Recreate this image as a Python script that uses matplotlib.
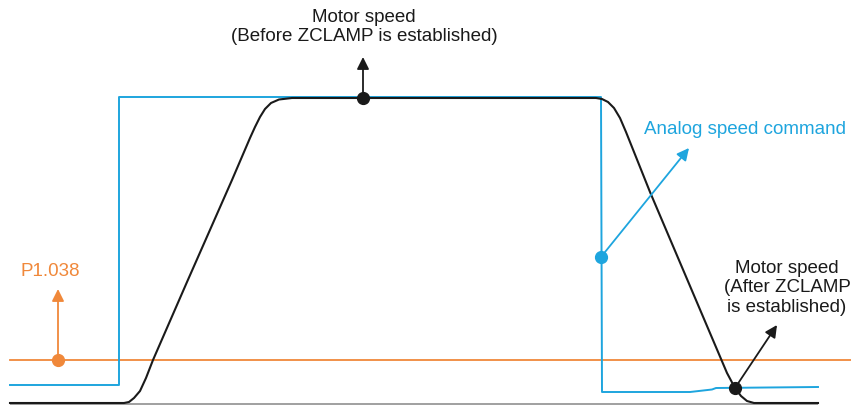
import matplotlib.pyplot as plt

plt.rcParams['font.family'] = ['Liberation Sans', 'DejaVu Sans']

# Motor speed before ZCLAMP (time, speed)
motor_t = [10, 124, 129, 134, 140, 146, 153, 187, 232, 250, 255, 260, 265, 271, 279, 292,
           596, 602, 608, 614, 620, 626, 650, 727, 735, 741, 747, 754, 818]
motor_v = [0, 0, 1, 5, 12, 25, 43, 121, 223, 265, 276, 286, 294, 300, 303.5, 305,
           305, 304, 301, 295, 285, 271, 211, 30, 15, 7, 2, 0, 0]

# Analog speed command
cmd_t = [10, 119, 119, 601, 602, 690, 712, 716, 818]
cmd_v = [18, 18, 306, 306, 11, 11, 13.5, 15, 16]

# P1.038 zero speed clamp level
clamp_level = 43
clamp_t = [10, 851]

BLACK = '#1a1a1a'
BLUE = '#1ea5de'
ORANGE = '#f0883a'
GRAY = '#a0a0a0'

fig = plt.figure(figsize=(8.51, 4.07), dpi=100)
ax = fig.add_axes([0, 0, 1, 1])
ax.set_xlim(0, 851)
ax.set_ylim(-4, 403)
ax.axis('off')

# time axis
ax.plot([10, 818], [-0.5, -0.5], color=GRAY, lw=1.4, solid_capstyle='butt', zorder=1)

ax.plot(clamp_t, [clamp_level, clamp_level], color=ORANGE, lw=1.3, zorder=2)
ax.plot(cmd_t, cmd_v, color=BLUE, lw=1.4, zorder=3)
ax.plot(motor_t, motor_v, color=BLACK, lw=1.5, zorder=4)


def callout(dot, tip, color):
    ax.annotate('', xy=tip, xytext=dot,
                arrowprops=dict(arrowstyle='-|>,head_length=0.6,head_width=0.3',
                                mutation_scale=12, color=color, lw=1.3,
                                shrinkA=0, shrinkB=0), zorder=5)
    ax.plot(*dot, 'o', color=color, ms=8.5, zorder=6)


callout((363, 305), (363, 346), BLACK)
ax.text(364, 376, 'Motor speed\n(Before ZCLAMP is established)', ha='center', va='center',
        fontsize=13.5, color=BLACK, linespacing=1.2)

callout((601, 146), (689, 255), BLUE)
ax.text(644, 273, 'Analog speed command', ha='left', va='center', fontsize=13.5, color=BLUE)

callout((58, clamp_level), (58, 114), ORANGE)
ax.text(20, 132, 'P1.038', ha='left', va='center', fontsize=13.5, color=ORANGE)

callout((735, 15), (777, 78), BLACK)
ax.text(787, 115, 'Motor speed\n(After ZCLAMP\nis established)', ha='center', va='center',
        fontsize=13.5, color=BLACK, linespacing=1.2)

fig.savefig('out.png', dpi=100)
